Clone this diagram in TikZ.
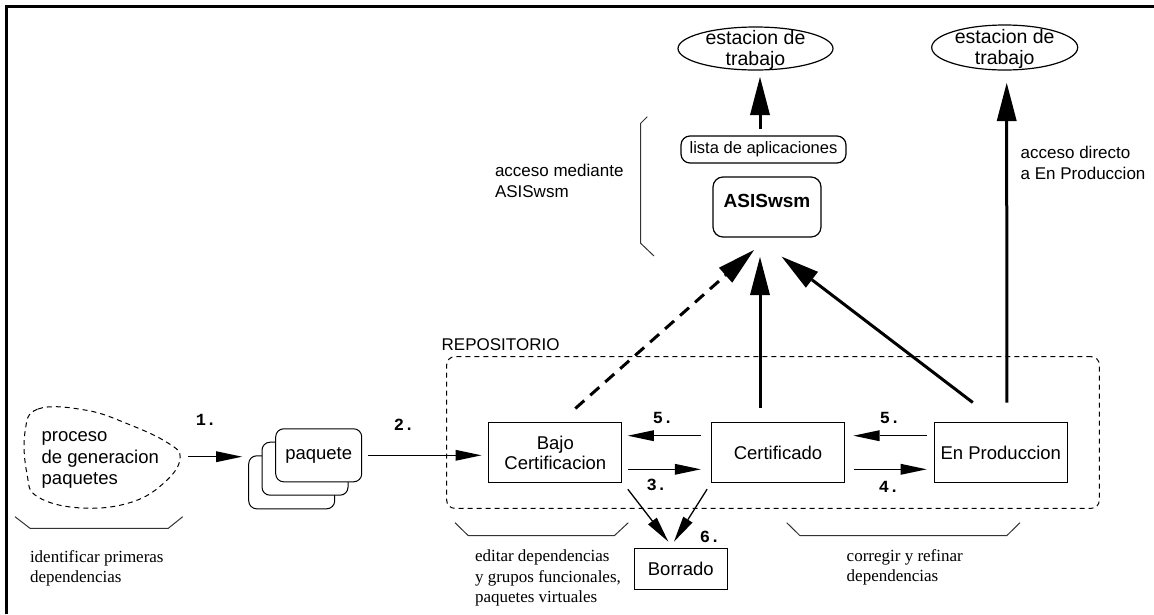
\documentclass[tikz,border=0pt]{standalone}
\usepackage{fontspec}
\setmainfont{Liberation Sans}
\newfontfamily\serifface{Liberation Serif}
\newfontfamily\monoface{Liberation Mono}
\usetikzlibrary{arrows.meta,shapes.geometric}

\begin{document}
\begin{tikzpicture}[x=1pt,y=-1pt,
  every node/.style={inner sep=0pt, outer sep=0pt},
  stagebox/.style={draw, line width=1.2pt, minimum width=133pt, minimum height=60pt,
    align=center, font=\fontsize{18.5}{20}\selectfont},
  cardbox/.style={draw, line width=1pt, fill=white, rounded corners=8pt,
    minimum width=86pt, minimum height=53pt, font=\fontsize{18.5}{20}\selectfont},
  thinarrow/.style={line width=1.3pt, -{Triangle[length=26pt,width=11pt,line width=0pt]}},
  bigarrow/.style={line width=3pt, -{Triangle[length=38pt,width=20pt,line width=0pt]}},
  num/.style={font=\monoface\bfseries\fontsize{17}{17}\selectfont},
  note/.style={font=\serifface\fontsize{17}{20.5}\selectfont, align=left, anchor=west},
  sidetext/.style={font=\fontsize{17}{21}\selectfont, align=left, anchor=west},
  brace/.style={line width=1pt, draw=black!80},
  wsshape/.style={ellipse, draw, line width=1.2pt},
  wstext/.style={align=center, font=\fontsize{19.5}{20.5}\selectfont}
]
\useasboundingbox (0,0) rectangle (1154,614);

% frame on the left and top
\draw[line width=2.5pt] (6.5,614) -- (6.5,6.7) -- (1154,6.7);

% workstations
\node[wsshape, minimum width=155pt, minimum height=43pt] (ws1) at (755.5,48.5) {};
\node[wstext] (ws1t) at (755.5,50) {estacion de\\trabajo};
\node[wsshape, minimum width=146pt, minimum height=45pt] (ws2) at (1004.7,47.5) {};
\node[wstext] (ws2t) at (1004.7,49) {estacion de\\trabajo};

% ASISwsm and its application list
\node[draw, line width=1.2pt, rounded corners=9pt, minimum width=165pt, minimum height=27pt,
  font=\fontsize{16.5}{18}\selectfont] (lista) at (763.5,149.5) {lista de aplicaciones};
\node[draw, line width=1.2pt, rounded corners=10pt, minimum width=108pt, minimum height=60pt]
  (asis) at (767,207) {};
\node[font=\bfseries\fontsize{19}{20}\selectfont] (asist) at (767,201) {ASISwsm};

\node[sidetext] (accm) at (495,181) {acceso mediante\\ASISwsm};
\node[sidetext] (accd) at (1020.7,163) {acceso directo\\a En Produccion};
\draw[brace] (647.3,116.7) -- (640.7,123.3) -- (640.7,243.3) -- (654,256);

% repository
\node[draw, dashed, dash pattern=on 5pt off 4pt, line width=1pt, rounded corners=8pt,
  minimum width=652.6pt, minimum height=151.6pt] (repo) at (773,432.5) {};
\node[anchor=west, font=\fontsize{17}{20}\selectfont] (repol) at (441.7,344.3) {REPOSITORIO};

\node[stagebox] (bajo) at (555.3,452.5) {Bajo\\Certificacion};
\node[stagebox] (cert) at (778,452.5) {Certificado};
\node[stagebox] (prod) at (1000.8,452.5) {En Produccion};
\node[draw, line width=1.2pt, minimum width=93pt, minimum height=41pt,
  font=\fontsize{18.5}{20}\selectfont] (borr) at (680.8,568.7) {Borrado};

% package generation
\node[sidetext, font=\fontsize{18.5}{21.7}\selectfont] (proc) at (41.7,460) {proceso\\de generacion\\paquetes};
\draw[dashed, dash pattern=on 5pt off 4pt, line width=1pt]
  plot[smooth cycle, tension=0.7] coordinates {(25,432) (38,409) (85,410) (128,424)
    (168,443) (180,458) (166,481) (132,502) (82,508) (38,497) (27,474)};
\coordinate (proctip) at (188.3,456.7);

\node[cardbox] (pk3) at (291.7,482.3) {};
\node[cardbox] (pk2) at (305,468.7) {};
\node[cardbox] (pk1) at (318.7,455.3) {paquete};

% flow arrows
\draw[thinarrow, shorten >=6.6pt] (proctip) -- (pk3.west |- proctip);
\draw[thinarrow, shorten <=6.6pt, shorten >=7.3pt] (pk1.east) -- (pk1.east -| bajo.west);
\draw[thinarrow, shorten <=10.7pt, shorten >=6pt] ([yshift=16.8pt]cert.west) -- ([yshift=16.8pt]bajo.east);
\draw[thinarrow, shorten <=6pt, shorten >=10.7pt] ([yshift=-16.8pt]bajo.east) -- ([yshift=-16.8pt]cert.west);
\draw[thinarrow, shorten <=7.6pt, shorten >=9pt] ([yshift=16.8pt]prod.west) -- ([yshift=16.8pt]cert.east);
\draw[thinarrow, shorten <=9pt, shorten >=7.6pt] ([yshift=-16.8pt]cert.east) -- ([yshift=-16.8pt]prod.west);
\draw[thinarrow] ([shift={(6pt,-6.7pt)}]bajo.south east) -- ([shift={(-12.5pt,6.6pt)}]borr.north);
\draw[thinarrow] ([shift={(-4.4pt,-6.7pt)}]cert.south west) -- ([shift={(-6.8pt,6.6pt)}]borr.north);

% access arrows
\draw[bigarrow, dashed, dash pattern=on 12pt off 8pt] ([shift={(20pt,14pt)}]bajo.north) -- ([shift={(-13pt,-13pt)}]asis.south);
\draw[bigarrow] ([shift={(-18pt,14.5pt)}]cert.north) -- ([shift={(-7pt,-20pt)}]asis.south);
\draw[bigarrow] ([shift={(-28pt,20pt)}]prod.north) -- ([shift={(14.7pt,-19.7pt)}]asis.south);
\draw[bigarrow] ([shift={(6pt,20pt)}]prod.north) -- ([shift={(2pt,-13pt)}]ws2.south);
\draw[bigarrow] ([shift={(-3.5pt,7pt)}]lista.north) -- ([shift={(4.5pt,-7pt)}]ws1.south);

% step numbers
\node[num] (s1) at (206,420) {1.};
\node[num] (s2) at (404,425) {2.};
\node[num] (s5a) at (663,418) {5.};
\node[num] (s5b) at (890,418) {5.};
\node[num] (s3) at (656.7,485) {3.};
\node[num] (s4) at (889,486.7) {4.};
\node[num] (s6) at (710,536.7) {6.};

% phase brackets and notes
\draw[brace] (15,516.7) -- (30,528.3) -- (168.3,528.3) -- (182.7,516.7);
\draw[brace] (455,522.7) -- (468.3,535.7) -- (614.3,535.7) -- (628.3,522.7);
\draw[brace] (786.7,522.7) -- (800,535.7) -- (1006.7,535.7) -- (1020,522.7);
\node[note] (n1) at (30,568.3) {identificar primeras\\dependencias};
\node[note] (n2) at (475,578.3) {editar dependencias\\y grupos funcionales,\\paquetes virtuales};
\node[note] (n3) at (846.7,567.5) {corregir y refinar\\dependencias};
\end{tikzpicture}
\end{document}
